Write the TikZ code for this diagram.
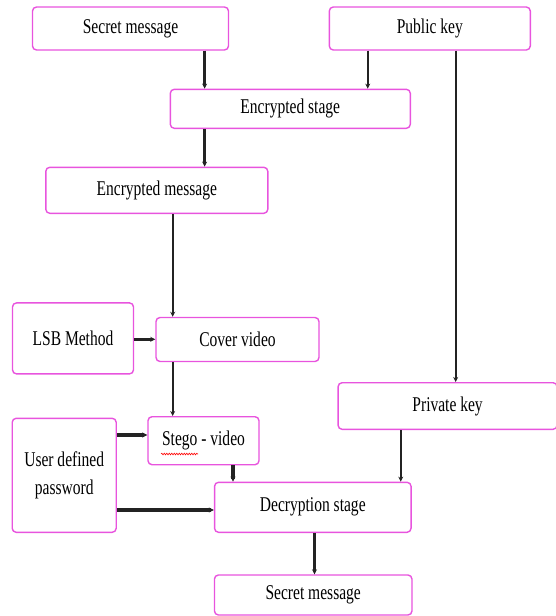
\documentclass[tikz,border=0pt]{standalone}
\usepackage{fontspec}
\setmainfont{Liberation Serif}[FakeStretch=0.74]
\usetikzlibrary{arrows.meta,decorations.pathmorphing}
\definecolor{boxpink}{RGB}{232,84,222}
\definecolor{linegray}{RGB}{35,35,35}
\begin{document}
\begin{tikzpicture}[x=1pt,y=-1pt,
  box/.style={draw=boxpink,line width=1.4pt,rounded corners=4pt,fill=white,
    inner sep=2pt,align=center,font=\fontsize{21}{28}\selectfont},
  arr/.style={draw=linegray,line width=2.3pt,-{Stealth[length=5pt,width=5pt]}},
  thickarr/.style={arr,line width=3.2pt}]
\useasboundingbox (0,0) rectangle (556,616);
\node[box,minimum width=196pt,minimum height=43pt] (sm1) at (130.5,28.5) {Secret message};
\node[box,minimum width=201pt,minimum height=43pt] (pk) at (429.8,28.5) {Public key};
\node[box,minimum width=240pt,minimum height=39pt] (es) at (290.3,108.8) {Encrypted stage};
\node[box,minimum width=222pt,minimum height=46pt] (em) at (156.8,190.3) {Encrypted message};
\node[box,minimum width=121pt,minimum height=71pt] (lsb) at (73,338.4) {LSB Method};
\node[box,minimum width=163pt,minimum height=44pt] (cv) at (237.5,339.5) {Cover video};
\node[box,minimum width=219pt,minimum height=46.6pt] (prk) at (447.6,406) {Private key};
\node[box,minimum width=104pt,minimum height=114pt] (udp) at (64.2,475.3) {User defined\\password};
\node[box,minimum width=111pt,minimum height=48pt] (sv) at (203.5,440.7) {Stego - video};
\node[box,minimum width=196.5pt,minimum height=50pt] (ds) at (312.8,507.3) {Decryption stage};
\node[box,minimum width=197.5pt,minimum height=40pt] (sm2) at (313.2,595) {Secret message};
\draw[red,line width=0.6pt,decorate,decoration={snake,amplitude=0.8pt,segment length=2.5pt}] (161,454) -- (198,454);
\draw[arr] (sm1.south -| 204.6,0) -- (es.north -| 204.6,0);
\draw[arr] (pk.south -| 367.7,0) -- (es.north -| 367.7,0);
\draw[arr] (pk.south -| 455.7,0) -- (prk.north -| 455.7,0);
\draw[arr] (es.south -| 204.6,0) -- (em.north -| 204.6,0);
\draw[arr] (em.south -| 172.7,0) -- (cv.north -| 172.7,0);
\draw[thickarr] (lsb.east |- 0,339.3) -- (cv.west |- 0,339.3);
\draw[arr] (cv.south -| 172.7,0) -- (sv.north -| 172.7,0);
\draw[thickarr] (udp.east |- 0,435) -- (sv.west |- 0,435);
\draw[arr,line width=4.5pt] (sv.south -| 233,0) -- (ds.north -| 233,0);
\draw[thickarr] (udp.east |- 0,510) -- (ds.west |- 0,510);
\draw[arr] (prk.south -| 400.7,0) -- (ds.north -| 400.7,0);
\draw[arr] (ds.south -| 314.5,0) -- (sm2.north -| 314.5,0);
\end{tikzpicture}
\end{document}
